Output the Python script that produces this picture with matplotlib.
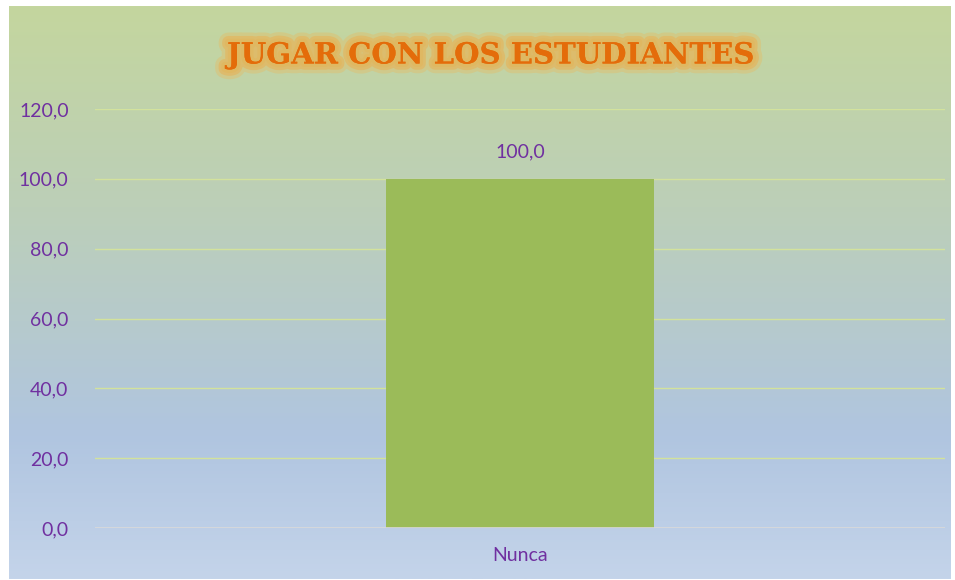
import numpy as np
import matplotlib
matplotlib.use("Agg")
import matplotlib.pyplot as plt
import matplotlib.patheffects as pe

categories = ["Nunca"]
values = [100.0]
yticks = [0, 20, 40, 60, 80, 100, 120]
title = "JUGAR CON LOS ESTUDIANTES"

W, H = 955, 580
fig = plt.figure(figsize=(W / 100, H / 100), dpi=100)
fig.patch.set_facecolor("white")

# background gradient panel
bg = fig.add_axes([9 / W, 1 - 579 / H, 941 / W, 573 / H])
stops = np.array([0.0, 0.35, 0.75, 1.0])
cols = np.array([[196, 214, 158], [188, 207, 184], [176, 197, 224], [196, 212, 234]]) / 255
t = np.linspace(0, 1, 300)
grad = np.stack([np.interp(t, stops, cols[:, i]) for i in range(3)], axis=1)
bg.imshow(grad[:, None, :], aspect="auto", extent=[0, 1, 0, 1])
bg.set_axis_off()

purple = "#7030a0"
fam = ["Lato", "DejaVu Sans"]

ax = fig.add_axes([95 / W, 1 - 528 / H, 850 / W, (528 - 109) / H])
ax.set_facecolor("none")
ax.set_xlim(-0.5, 0.5)
ax.set_ylim(0, 120)
x = np.arange(len(categories))
bars = ax.bar(x, values, width=0.315, color="#9bbb59", zorder=3)
ax.set_yticks(yticks)
ax.set_yticklabels([f"{v:.1f}".replace(".", ",") for v in yticks], color=purple,
                   fontsize=14, family=fam)
ax.set_xticks(x)
ax.set_xticklabels(categories, color=purple, fontsize=14, family=fam)
ax.tick_params(axis="both", length=0)
ax.tick_params(axis="y", pad=19)
ax.tick_params(axis="x", pad=14)
for v in yticks[1:]:
    ax.axhline(v, color="#d3e29c", lw=1, zorder=1)
ax.axhline(0, color="#d9d9d9", lw=1.2, zorder=4)
for s in ax.spines.values():
    s.set_visible(False)
for xi, v in zip(x, values):
    ax.annotate(f"{v:.1f}".replace(".", ","), (xi, v), xytext=(0, 13),
                textcoords="offset points", ha="center", va="bottom",
                color=purple, fontsize=14, family=fam)

glow = [pe.withStroke(linewidth=14, foreground=(0.93, 0.72, 0.35, 0.35)),
        pe.withStroke(linewidth=9, foreground=(0.90, 0.70, 0.35, 0.6)),
        pe.withStroke(linewidth=5, foreground=(0.88, 0.72, 0.38, 0.9)),
        pe.Normal()]
fig.text(490 / W, 1 - 55 / H, title, ha="center", va="center", fontsize=21,
         fontweight="bold", family=["DejaVu Serif"], color="#e46c0a",
         path_effects=glow)

fig.savefig("out.png", dpi=100, facecolor="white")
